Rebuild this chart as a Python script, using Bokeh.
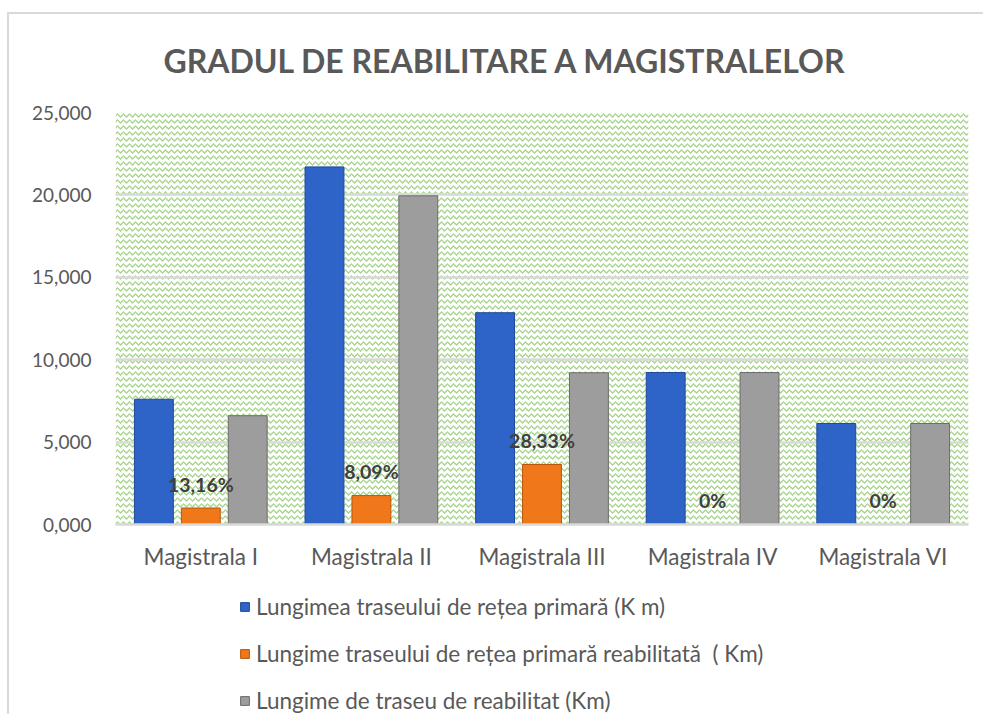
from bokeh.plotting import figure
from bokeh.layouts import column
from bokeh.models import (FactorRange, Range1d, Legend, LegendItem, BoxAnnotation, Label,
                          CustomJSTickFormatter, ColumnDataSource, FixedTicker)
from bokeh.transform import dodge
from bokeh.core.properties import value
from bokeh.embed import file_html
from bokeh.resources import INLINE

# ---- data ----
categories = ["Magistrala I", "Magistrala II", "Magistrala III", "Magistrala IV", "Magistrala VI"]
lungime_totala = [7.60, 21.70, 12.85, 9.22, 6.13]
lungime_reabilitata = [1.00, 1.755, 3.64, 0.0, 0.0]
lungime_de_reabilitat = [6.60, 19.945, 9.21, 9.22, 6.13]
procente = ["13,16%", "8,09%", "28,33%", "0%", "0%"]
series_names = [
    "Lungimea traseului de rețea primară (K m)",
    "Lungime traseului de rețea primară reabilitată  ( Km)",
    "Lungime de traseu de reabilitat (Km)",
]
y_ticks = [0, 5, 10, 15, 20, 25]
title_text = "GRADUL DE REABILITARE A MAGISTRALELOR"

FONT = "Lato"
TXT = "#595959"
colors = ["#2e63c8", "#f0771a", "#9d9d9d"]
edges = ["#1f4a99", "#b9560b", "#6b6b6b"]
value_cols = ["total", "reab", "rest"]
W = 974

src = ColumnDataSource(dict(cat=categories, total=lungime_totala, reab=lungime_reabilitata,
                            rest=lungime_de_reabilitat, pct=procente))

# ---- title strip ----
tf = figure(x_range=Range1d(0, 1), y_range=Range1d(0, 1), width=W, height=80,
            output_backend="svg", toolbar_location=None, min_border=0,
            x_axis_type=None, y_axis_type=None)
tf.grid.visible = False
tf.outline_line_color = None
tf.background_fill_color = "white"
tf.border_fill_color = "white"
tf.add_layout(Label(x=390, y=34, x_units="screen", y_units="screen", text=title_text,
                    text_align="center", text_baseline="alphabetic", text_font=FONT,
                    text_font_size="32px", text_font_style="bold", text_color=TXT))

# ---- main chart ----
p = figure(x_range=FactorRange(*categories), y_range=Range1d(0, 25),
           width=W, height=480, output_backend="svg", toolbar_location=None,
           min_border_left=106, min_border_right=15, min_border_top=18, min_border_bottom=50)

p.outline_line_color = None
p.background_fill_color = "white"
p.border_fill_color = "white"

bg = BoxAnnotation(fill_color="white", fill_alpha=1.0, line_color=None,
                   hatch_pattern="horizontal_wave", hatch_color="#9fcf82", hatch_alpha=0.9,
                   hatch_scale=6, hatch_weight=1.3, level="image")
p.add_layout(bg)

p.xgrid.grid_line_color = None
p.ygrid.grid_line_color = "#d9d9d9"
p.ygrid.grid_line_width = 2.5
p.ygrid.ticker = FixedTicker(ticks=y_ticks)

p.yaxis.ticker = FixedTicker(ticks=y_ticks)
p.yaxis.formatter = CustomJSTickFormatter(code="return tick.toFixed(3).replace('.', ',');")
p.yaxis.axis_line_color = None
p.yaxis.major_tick_line_color = None
p.yaxis.minor_tick_line_color = None
p.yaxis.major_label_text_font = FONT
p.yaxis.major_label_text_font_size = "19px"
p.yaxis.major_label_text_color = TXT
p.yaxis.major_label_standoff = 18

p.xaxis.axis_line_color = "#d9d9d9"
p.xaxis.axis_line_width = 2.5
p.xaxis.major_tick_line_color = None
p.xaxis.minor_tick_line_color = None
p.xaxis.major_label_text_font = FONT
p.xaxis.major_label_text_font_size = "22.5px"
p.xaxis.major_label_text_color = TXT
p.xaxis.major_label_standoff = 12

w = 0.228
offsets = [-0.275, 0.0, 0.275]
for col, off, fc, lc in zip(value_cols, offsets, colors, edges):
    p.vbar(x=dodge("cat", off, range=p.x_range), top=col, width=w, source=src,
           fill_color=fc, line_color=lc, line_width=1)

p.text(x=dodge("cat", 0, range=p.x_range), y="reab", text="pct", source=src,
       text_align="center", text_baseline="middle", y_offset=-24,
       text_font=value(FONT), text_font_size="19.5px", text_font_style="bold", text_color="#404040")

# ---- legend strip (below the chart) ----
lf = figure(x_range=FactorRange(*categories), y_range=Range1d(100, 101),
            width=W, height=140, output_backend="svg", toolbar_location=None,
            min_border=0, x_axis_type=None, y_axis_type=None)
lf.grid.visible = False
lf.outline_line_color = None
lf.background_fill_color = "white"
lf.border_fill_color = "white"
items = []
for col, fc, lc, name in zip(value_cols, colors, edges, series_names):
    r = lf.vbar(x="cat", top=col, width=w, source=src, fill_color=fc, line_color=lc, line_width=1)
    items.append(LegendItem(label=name, renderers=[r]))

legend = Legend(items=items, location=(124, 0), orientation="vertical",
                glyph_width=11, glyph_height=11, label_height=26, spacing=20,
                padding=0, margin=0, border_line_color=None, background_fill_alpha=0,
                label_text_font=FONT, label_text_font_size="22.5px", label_text_color=TXT,
                label_standoff=6)
lf.add_layout(legend)

layout = column(tf, p, lf, spacing=0,
                styles={"border-top": "2px solid #d9d9d9", "border-left": "2px solid #d9d9d9",
                        "margin-top": "12px", "margin-left": "7px"})

open("out.html", "w").write(file_html(layout, INLINE))
